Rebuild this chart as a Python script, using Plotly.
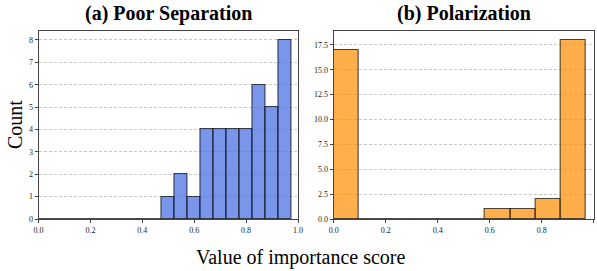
import plotly.graph_objects as go

# Panel (a): Poor Separation
a_centers = [round(0.05 * i, 3) for i in range(20)]
a_counts = [0, 0, 0, 0, 0, 0, 0, 0, 0, 0, 1, 2, 1, 4, 4, 4, 4, 6, 5, 8]
a_width = 0.05

# Panel (b): Polarization
b_width = 0.097
b_centers = [round(b_width * (i + 0.5), 4) for i in range(10)]
b_counts = [17, 0, 0, 0, 0, 0, 1, 1, 2, 18]

a_yticks = [0, 1, 2, 3, 4, 5, 6, 7, 8]
b_yticks = [0, 2.5, 5, 7.5, 10, 12.5, 15, 17.5]
b_yticklabels = ["0.0", "2.5", "5.0", "7.5", "10.0", "12.5", "15.0", "17.5"]
xticks = [0, 0.2, 0.4, 0.6, 0.8, 1.0]
xticklabels = ["0.0", "0.2", "0.4", "0.6", "0.8", "1.0"]

FONT = "Liberation Serif, Times New Roman, serif"
W, H = 597, 271

fig = go.Figure()
fig.add_trace(go.Bar(
    x=a_centers, y=a_counts, width=[a_width] * len(a_centers),
    marker=dict(color="rgba(65,105,225,0.7)", line=dict(color="rgba(0,0,0,0.7)", width=1.1)),
    xaxis="x", yaxis="y", showlegend=False, hoverinfo="skip",
))
fig.add_trace(go.Bar(
    x=b_centers, y=b_counts, width=[b_width] * len(b_centers),
    marker=dict(color="rgba(255,140,0,0.7)", line=dict(color="rgba(0,0,0,0.7)", width=1.1)),
    xaxis="x2", yaxis="y2", showlegend=False, hoverinfo="skip",
))

ydom = [1 - 219 / H, 1 - 31 / H]
axis_common = dict(showline=True, mirror=True, linecolor="#444", linewidth=1,
                   ticks="outside", ticklen=3, tickcolor="#444", automargin=False,
                   tickfont=dict(family=FONT, size=8, color="#222"), zeroline=False)
grid = dict(showgrid=True, gridcolor="#c8c8c8", griddash="3px,2px", gridwidth=0.8)

fig.update_layout(
    width=W, height=H, margin=dict(l=0, r=0, t=0, b=0, autoexpand=False),
    plot_bgcolor="white", paper_bgcolor="white", bargap=0,
    font=dict(family=FONT),
    xaxis=dict(domain=[38.5 / W, 298 / W], range=[0, 1], tickvals=xticks, ticktext=xticklabels,
               showgrid=False, anchor="y", **axis_common),
    yaxis=dict(domain=ydom, range=[0, 8.4], tickvals=a_yticks, anchor="x", **grid, **axis_common),
    xaxis2=dict(domain=[333.7 / W, 593.7 / W], range=[0, 1], tickvals=xticks, ticktext=xticklabels,
                showgrid=False, anchor="y2", **axis_common),
    yaxis2=dict(domain=ydom, range=[0, 18.9], tickvals=b_yticks, ticktext=b_yticklabels,
                anchor="x2", **grid, **axis_common),
    annotations=[
        dict(text="<b>(a) Poor Separation</b>", x=(38.5 + 298) / 2 / W, y=1 - 14 / H,
             xanchor="center", yanchor="middle",
             xref="paper", yref="paper", showarrow=False, font=dict(family=FONT, size=20, color="black")),
        dict(text="<b>(b) Polarization</b>", x=(333.7 + 593.7) / 2 / W, y=1 - 14 / H,
             xanchor="center", yanchor="middle",
             xref="paper", yref="paper", showarrow=False, font=dict(family=FONT, size=20, color="black")),
        dict(text="Count", x=15 / W, y=1 - 125 / H, textangle=-90,
             xanchor="center", yanchor="middle",
             xref="paper", yref="paper", showarrow=False, font=dict(family=FONT, size=20, color="black")),
        dict(text="Value of importance score", x=300 / W, y=1 - 257 / H,
             xanchor="center", yanchor="middle",
             xref="paper", yref="paper", showarrow=False, font=dict(family=FONT, size=20, color="black")),
    ],
)

fig.write_html("out.html", config={"displayModeBar": False},
               post_script="document.body.style.margin='0';document.body.style.overflow='hidden';")
